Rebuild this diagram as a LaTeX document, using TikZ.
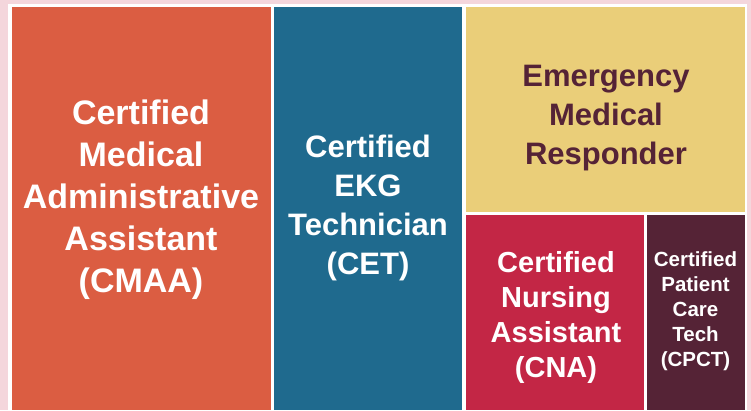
\documentclass[tikz,border=0pt]{standalone}
\usepackage{fontspec}
\setmainfont{Liberation Sans}
\usepackage{tikz}

\definecolor{bgpink}{HTML}{F4D6DC}
\definecolor{tileorange}{HTML}{DB5D42}
\definecolor{tileblue}{HTML}{1F6A8E}
\definecolor{tileyellow}{HTML}{EACE79}
\definecolor{tilered}{HTML}{C32645}
\definecolor{tilemaroon}{HTML}{552336}

\tikzset{
  tiletext/.style 2 args={align=center, text=white, font=\bfseries\fontsize{#1}{#2}\selectfont},
}

\begin{document}
\begin{tikzpicture}[x=1pt, y=-1pt]
\fill[bgpink] (0,0) rectangle (751,410);
\useasboundingbox (0,0) rectangle (751,410);
\fill[white] (8,4) rectangle (747,410);

\fill[tileorange] (11.5,6.5) rectangle (271,410);
\fill[tileblue]   (274,6.5)  rectangle (462,410);
\fill[tileyellow] (466,6.5)  rectangle (744.5,212);
\fill[tilered]    (466,214.5) rectangle (644,410);
\fill[tilemaroon] (647,214.5) rectangle (744.5,410);

\node[tiletext={34}{42}] (cmaa) at (141,200) {Certified\\Medical\\Administrative\\Assistant\\(CMAA)};
\node[tiletext={31}{39}] (cet) at (368,207.5) {Certified\\EKG\\Technician\\(CET)};
\node[tiletext={31}{39}, text=tilemaroon] (emr) at (606,118) {Emergency\\Medical\\Responder};
\node[tiletext={29}{35}] (cna) at (556,317) {Certified\\Nursing\\Assistant\\(CNA)};
\node[tiletext={20.5}{25}] (cpct) at (695.5,311.5) {Certified\\Patient\\Care\\Tech\\(CPCT)};
\end{tikzpicture}
\end{document}
